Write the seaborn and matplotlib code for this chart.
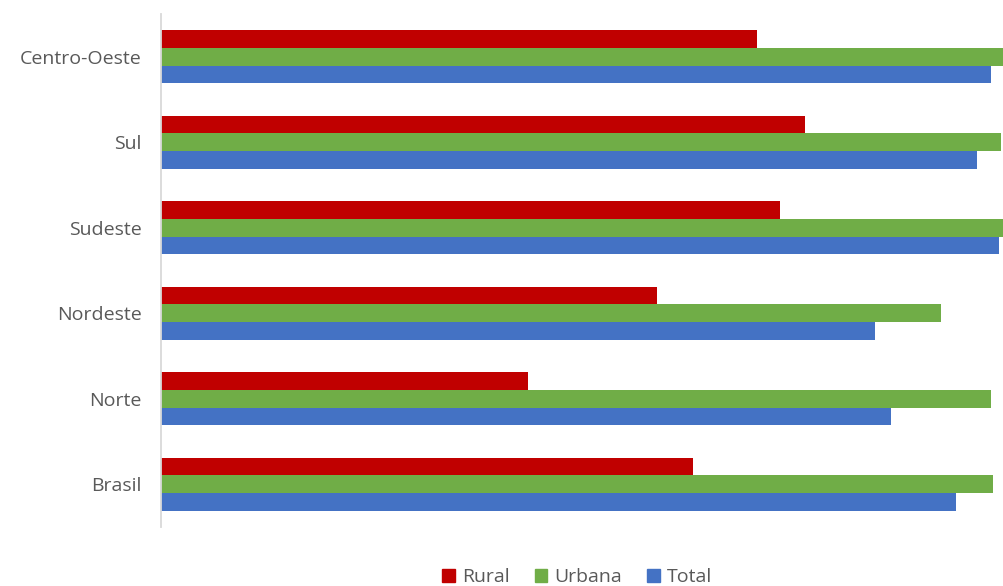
import numpy as np
import pandas as pd
import matplotlib
matplotlib.use("Agg")
import matplotlib.pyplot as plt
import seaborn as sns

regions = ["Centro-Oeste", "Sul", "Sudeste", "Nordeste", "Norte", "Brasil"]
series = ["Rural", "Urbana", "Total"]
rural = [70.1, 75.8, 72.8, 58.4, 43.2, 62.6]
urbana = [99.6, 98.8, 99.6, 91.8, 97.6, 97.9]
total = [97.6, 96.0, 98.6, 84.0, 85.9, 93.5]
colors = ["#C00000", "#70AD47", "#4472C4"]

df = pd.DataFrame({
    "Região": regions * 3,
    "Série": ["Rural"] * 6 + ["Urbana"] * 6 + ["Total"] * 6,
    "Valor": rural + urbana + total,
})

sns.set_style("white")
plt.rcParams["font.family"] = ["Open Sans", "DejaVu Sans"]

fig = plt.figure(figsize=(10.04, 5.86), dpi=100)
ax = fig.add_axes([161 / 1004, 1 - 527 / 586, 1 - 161 / 1004, (527 - 14) / 586])

sns.barplot(data=df, y="Região", x="Valor", hue="Série", order=regions,
            hue_order=series, palette=colors, orient="h", width=0.62,
            saturation=1, linewidth=0, ax=ax, legend=True)

ax.set_xlim(0, (1004 - 161) / 8.5)
ax.set_ylim(5.5, -0.5)
ax.set_xlabel("")
ax.set_ylabel("")
ax.set_xticks([])
ax.tick_params(axis="y", length=0, labelsize=14, labelcolor="#595959", pad=14)
for s in ["top", "right", "bottom"]:
    ax.spines[s].set_visible(False)
ax.spines["left"].set_color("#D9D9D9")
ax.spines["left"].set_linewidth(1.3)

ax.legend_.remove()
handles = [plt.Rectangle((0, 0), 1, 1, color=c) for c in colors]
fig.legend(handles, series, loc="center", bbox_to_anchor=(577 / 1004, 1 - 577 / 586),
           ncol=3, frameon=False, fontsize=14, labelcolor="#595959",
           handlelength=0.65, handleheight=0.65, handletextpad=0.35, columnspacing=1.3,
           borderpad=0)

fig.savefig("out.png", dpi=100)
